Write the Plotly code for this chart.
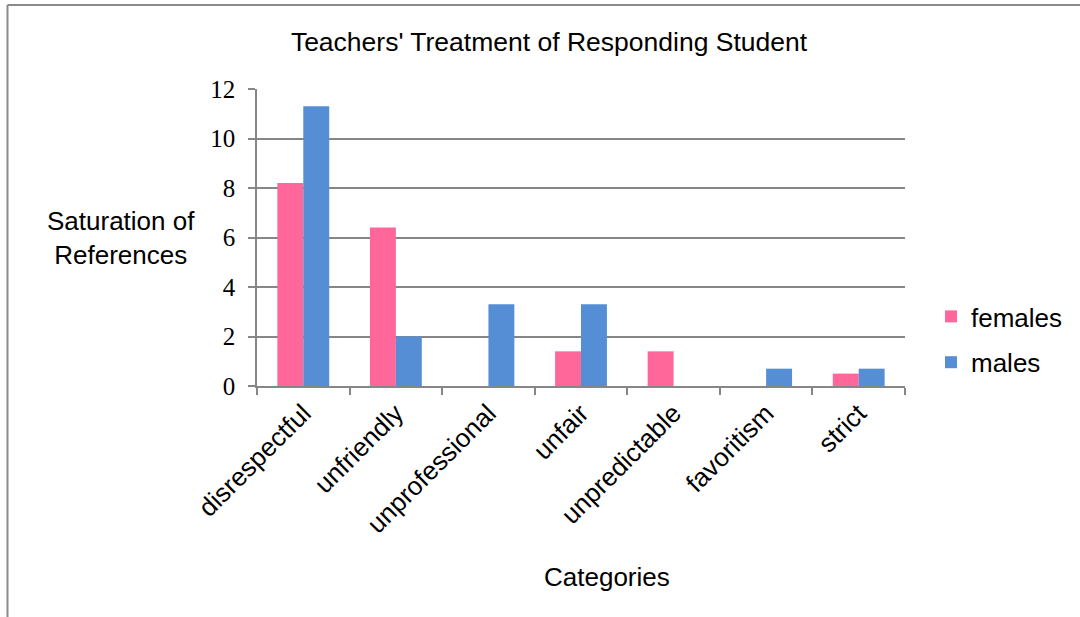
import plotly.graph_objects as go

categories = ["disrespectful", "unfriendly", "unprofessional", "unfair",
              "unpredictable", "favoritism", "strict"]
females = [8.2, 6.4, 0, 1.4, 1.4, 0, 0.5]
males = [11.3, 2.0, 3.3, 3.3, 0, 0.7, 0.7]

W, H = 1080, 617
L, R, T, B = 257, 175, 89, 231
PW, PH = W - L - R, H - T - B


def px_x(x):
    return (x - L) / PW


def px_y(y):
    return (H - B - y) / PH


GRAY = "#868686"
SANS = "Liberation Sans, Arial, sans-serif"
SERIF = "Liberation Serif, Times New Roman, serif"

fig = go.Figure()
fig.add_bar(x=categories, y=females, name="females", marker_color="#FF6699",
            marker_line_width=0, legendgroup="f")
fig.add_bar(x=categories, y=males, name="males", marker_color="#558ED5",
            marker_line_width=0, legendgroup="m")

fig.update_layout(
    width=W, height=H,
    margin=dict(l=L, r=R, t=T, b=B, autoexpand=False),
    paper_bgcolor="white", plot_bgcolor="white",
    barmode="group", bargap=0.44, bargroupgap=0,
    title=dict(text="Teachers' Treatment of Responding Student",
               x=549 / W, xanchor="center", xref="container",
               y=1 - 42 / H, yanchor="middle",
               font=dict(family=SANS, size=26.5, color="black")),
    legend=dict(x=px_x(931), y=px_y(293), xanchor="left", yanchor="top",
                font=dict(family=SANS, size=26, color="black"),
                traceorder="grouped", tracegroupgap=9,
                bgcolor="rgba(0,0,0,0)"),
    font=dict(family=SANS, color="black"),
)

fig.update_xaxes(
    showline=True, linecolor=GRAY, linewidth=1.5,
    ticks="outside", tickson="boundaries", ticklen=7, tickcolor=GRAY, tickwidth=1.5,
    tickangle=-45, tickfont=dict(family=SANS, size=26, color="black"),
    showgrid=False,
)
fig.update_yaxes(
    range=[0, 12], dtick=2, showgrid=True, gridcolor=GRAY, gridwidth=1.5,
    showline=True, linecolor=GRAY, linewidth=1.5,
    ticks="outside", ticklen=7, tickcolor=GRAY, tickwidth=1.5,
    tickfont=dict(family=SERIF, size=25, color="black"),
    ticklabelstandoff=8, zeroline=False,
)

fig.add_annotation(text="Saturation of<br>References", xref="paper", yref="paper",
                   x=px_x(121), y=px_y(238), xanchor="center", yanchor="middle",
                   showarrow=False, font=dict(family=SANS, size=26, color="black"))
fig.add_annotation(text="Categories", xref="paper", yref="paper",
                   x=px_x(607), y=px_y(577), xanchor="center", yanchor="middle",
                   showarrow=False, font=dict(family=SANS, size=26, color="black"))

# outer frame: top and left edges
fig.add_shape(type="line", xref="paper", yref="paper",
              x0=px_x(7.5), y0=px_y(5), x1=px_x(W + 5), y1=px_y(5),
              line=dict(color="#8A8A8A", width=2))
fig.add_shape(type="line", xref="paper", yref="paper",
              x0=px_x(7.5), y0=px_y(5), x1=px_x(7.5), y1=px_y(H + 5),
              line=dict(color="#8A8A8A", width=2))

fig.write_html("out.html")
